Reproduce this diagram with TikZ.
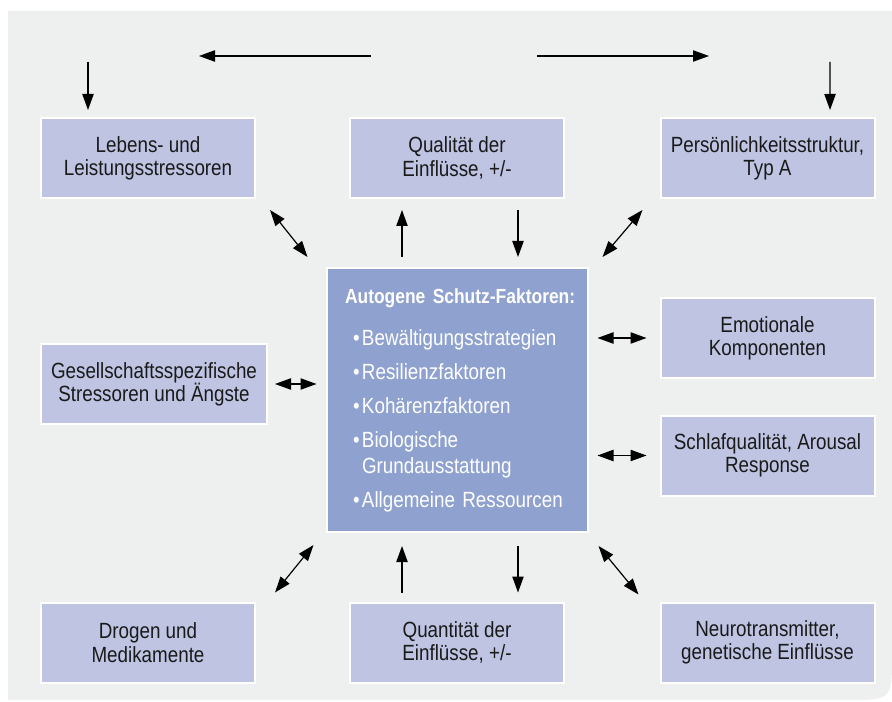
\documentclass[tikz,border=0pt]{standalone}
\usepackage{fontspec}
\setmainfont[FakeStretch=0.855]{Liberation Sans}
\usetikzlibrary{arrows.meta}
\definecolor{bggray}{HTML}{EEEFEF}
\definecolor{boxblue}{HTML}{BEC4E2}
\definecolor{corebox}{HTML}{8FA1CE}
\definecolor{inkblack}{HTML}{1A1A1A}
\newcommand{\bul}{\hspace*{6pt}\makebox[6.75pt][l]{•}}
\newcommand{\bulgap}{\hspace*{12.75pt}}

\begin{document}
\begin{tikzpicture}[x=0.75pt,y=-0.75pt,
	box/.style={draw=white, line width=1.5pt, fill=boxblue, minimum width=160.5pt, minimum height=60pt, inner sep=0pt, align=center, text=inkblack, font=\fontsize{16.5}{17.5}\selectfont},
	arr/.style={-{Triangle[length=12pt,width=8.5pt]}, line width=0.9pt},
	darr/.style={{Triangle[length=12pt,width=8.5pt]}-{Triangle[length=12pt,width=8.5pt]}, line width=0.9pt}]

	\useasboundingbox (0,0) rectangle (892,702);
	\fill[bggray] (8,11) -- (892,11) -- (892,655) .. controls (892,700) .. (847,700) -- (8,700) -- cycle;

	\node[box] (leb) at (148,158) {Lebens- und\\Leistungsstressoren};
	\node[box] (qual) at (457,158) {Qualität der\\Einflüsse, +/-};
	\node[box] (pers) at (767.5,158) {Persönlichkeitsstruktur,\\Typ A};
	\node[box, minimum width=169.5pt] (ges) at (154,384) {Gesellschaftsspezifische\\Stressoren und Ängste};
	\node[box] (emo) at (767.5,338) {Emotionale\\Komponenten};
	\node[box] (schlaf) at (767.5,455.5) {Schlafqualität, Arousal\\Response};
	\node[box] (drog) at (148,642.5) {Drogen und\\Medikamente};
	\node[box] (quan) at (457,642.5) {Quantität der\\Einflüsse, +/-};
	\node[box] (neuro) at (767.5,642.5) {Neurotransmitter,\\genetische Einflüsse};

	\node[box, fill=corebox, text=white, minimum width=195.75pt, minimum height=198pt, text width=168pt, align=left, font=\fontsize{16.5}{19.5}\selectfont] (core) at (457,400) {\makebox[168pt][l]{\fontsize{15.3}{19.5}\selectfont\bfseries Autogene Schutz-Faktoren:}\\[12pt]
		\bul Bewältigungsstrategien\\[6pt]
		\bul Resilienzfaktoren\\[6pt]
		\bul Kohärenzfaktoren\\[6pt]
		\bul Biologische\\
		\bulgap Grundausstattung\\[6pt]
		\bul Allgemeine Ressourcen};

	\coordinate (topL) at (371,56);
	\coordinate (topLend) at (199,56);
	\coordinate (topR) at (537,56);
	\coordinate (topRend) at (709,56);
	\coordinate (lebin) at (88,62);
	\coordinate (persin) at (830,62);

	\draw[arr] (topL) -- (topLend);
	\draw[arr] (topR) -- (topRend);
	\draw[arr] (lebin) -- ([xshift=-45pt,yshift=5.25pt]leb.north);
	\draw[arr] (persin) -- ([xshift=46.9pt,yshift=5.25pt]pers.north);

	\draw[arr] ([xshift=-41.25pt,yshift=7.5pt]core.north) -- ([xshift=-41.25pt,yshift=-8.25pt]qual.south);
	\draw[arr] ([xshift=45.75pt,yshift=-8.25pt]qual.south) -- ([xshift=45.75pt,yshift=7.5pt]core.north);
	\draw[darr] ([xshift=10.5pt,yshift=-8.25pt]leb.south east) -- ([xshift=-13.5pt,yshift=7.5pt]core.north west);
	\draw[darr] ([xshift=-12.75pt,yshift=-8.25pt]pers.south west) -- ([xshift=10.5pt,yshift=7.5pt]core.north east);

	\draw[darr] ([xshift=5.25pt]ges.east) -- ([xshift=-6.75pt]ges.east -| core.west);
	\draw[darr] ([xshift=6.75pt]emo.west -| core.east) -- ([xshift=-9.75pt]emo.west);
	\draw[darr] ([xshift=6.75pt]schlaf.west -| core.east) -- ([xshift=-9.75pt]schlaf.west);

	\draw[darr] ([xshift=-9pt,yshift=-9pt]core.south west) -- ([xshift=14.25pt,yshift=6.75pt]drog.north east);
	\draw[arr] ([xshift=-41.25pt,yshift=6.75pt]quan.north) -- ([xshift=-41.25pt,yshift=-9.75pt]core.south);
	\draw[arr] ([xshift=45.75pt,yshift=-9.75pt]core.south) -- ([xshift=45.75pt,yshift=6.75pt]quan.north);
	\draw[darr] ([xshift=7.5pt,yshift=-9.75pt]core.south east) -- ([xshift=-15.75pt,yshift=5.25pt]neuro.north west);
\end{tikzpicture}
\end{document}
